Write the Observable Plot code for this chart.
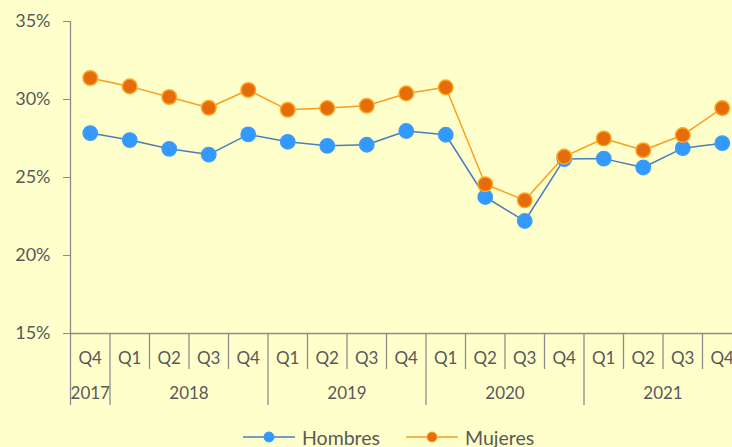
<!DOCTYPE html>
<html>
<head>
<meta charset="utf-8">
<script src="https://cdn.jsdelivr.net/npm/d3@7"></script>
<script src="https://cdn.jsdelivr.net/npm/@observablehq/plot@0.6"></script>
<style>
  html, body { margin: 0; padding: 0; background: #ffffcc; width: 732px; height: 447px; overflow: hidden; }
  #chart svg { display: block; }
  #legend { display: flex; align-items: center; height: 24px; padding-left: 243px; font-family: Lato, "Open Sans", sans-serif; font-size: 19.5px; color: #595959; }
  #legend .item { display: flex; align-items: center; margin-right: 26px; }
  #legend svg { margin-right: 7px; }
</style>
</head>
<body>
<div id="chart"></div>
<div id="legend"></div>
<script>
const quarters = ["Q4","Q1","Q2","Q3","Q4","Q1","Q2","Q3","Q4","Q1","Q2","Q3","Q4","Q1","Q2","Q3","Q4"];
const years    = ["2017","2018","2018","2018","2018","2019","2019","2019","2019","2020","2020","2020","2020","2021","2021","2021","2021"];
const hombres  = [27.85,27.40,26.84,26.47,27.76,27.29,27.03,27.10,27.98,27.74,23.75,22.21,26.18,26.21,25.64,26.88,27.20];
const mujeres  = [31.38,30.84,30.16,29.47,30.61,29.34,29.45,29.60,30.39,30.78,24.57,23.54,26.34,27.50,26.75,27.72,29.45];
const yTicks   = [15,20,25,30,35];
const seriesNames  = ["Hombres","Mujeres"];
const seriesLine   = ["#4a7ebb","#ff9c1a"];
const seriesFill   = ["#3399ff","#e46c0a"];
const seriesStroke = ["#3d9cf5","#ffa61f"];

const n = quarters.length;
const rows = quarters.map((q, i) => ({i: i + 0.5, q, year: years[i], h: hombres[i], m: mujeres[i]}));

// year groups from the years array
const groups = [];
years.forEach((y, i) => {
  const g = groups[groups.length - 1];
  if (g && g.year === y) g.end = i + 1;
  else groups.push({year: y, start: i, end: i + 1});
});
groups.forEach(g => g.mid = (g.start + g.end) / 2);

const yearStarts = groups.map(g => g.start);
const quarterSeps = d3.range(1, n).filter(i => !yearStarts.includes(i));

const pxPerUnit = (333 - 21) / 20;
const qBottom = 15 - 36 / pxPerUnit;
const yBottom = 15 - 72 / pxPerUnit;

const axisColor = "#8c8c8c";
const textColor = "#595959";

const chart = Plot.plot({
  width: 732,
  height: 425,
  marginLeft: 70,
  marginRight: -9.5,
  marginTop: 21,
  marginBottom: 92,
  style: {background: "#ffffcc", fontFamily: "Lato, 'Open Sans', sans-serif", color: textColor, overflow: "visible"},
  x: {domain: [0, n], axis: null},
  y: {domain: [15, 35], axis: null},
  marks: [
    Plot.axisY({ticks: yTicks, tickFormat: d => d + "%", tickSize: 7, tickPadding: 13, stroke: axisColor, fill: textColor, fontSize: 18}),
    Plot.ruleY([15], {stroke: axisColor, strokeWidth: 1.3}),
    Plot.ruleX([0], {y1: 35, y2: yBottom, stroke: axisColor, strokeWidth: 1.3}),
    Plot.ruleX(yearStarts.filter(s => s > 0), {y1: 15, y2: yBottom, stroke: axisColor, strokeWidth: 1.3}),
    Plot.ruleX(quarterSeps, {y1: 15, y2: qBottom, stroke: axisColor, strokeWidth: 1.3}),
    Plot.text(rows, {x: "i", y: 15, text: "q", dy: 25, fill: textColor, fontSize: 17}),
    Plot.text(groups, {x: "mid", y: 15, text: "year", dy: 60, fill: textColor, fontSize: 17}),
    Plot.line(rows, {x: "i", y: "h", stroke: seriesLine[0], strokeWidth: 1.5}),
    Plot.dot(rows, {x: "i", y: "h", r: 7.3, fill: seriesFill[0], stroke: seriesStroke[0], strokeWidth: 1.2}),
    Plot.line(rows, {x: "i", y: "m", stroke: seriesLine[1], strokeWidth: 1.5}),
    Plot.dot(rows, {x: "i", y: "m", r: 7.3, fill: seriesFill[1], stroke: seriesStroke[1], strokeWidth: 1.5})
  ]
});
document.getElementById("chart").appendChild(chart);

const legend = document.getElementById("legend");
seriesNames.forEach((name, k) => {
  const item = document.createElement("div");
  item.className = "item";
  item.innerHTML = `<svg width="52" height="14"><line x1="0" y1="7" x2="52" y2="7" stroke="${seriesLine[k]}" stroke-width="1.6"/><circle cx="26" cy="7" r="5" fill="${seriesFill[k]}" stroke="${seriesStroke[k]}" stroke-width="1"/></svg><span>${name}</span>`;
  legend.appendChild(item);
});
</script>
</body>
</html>
